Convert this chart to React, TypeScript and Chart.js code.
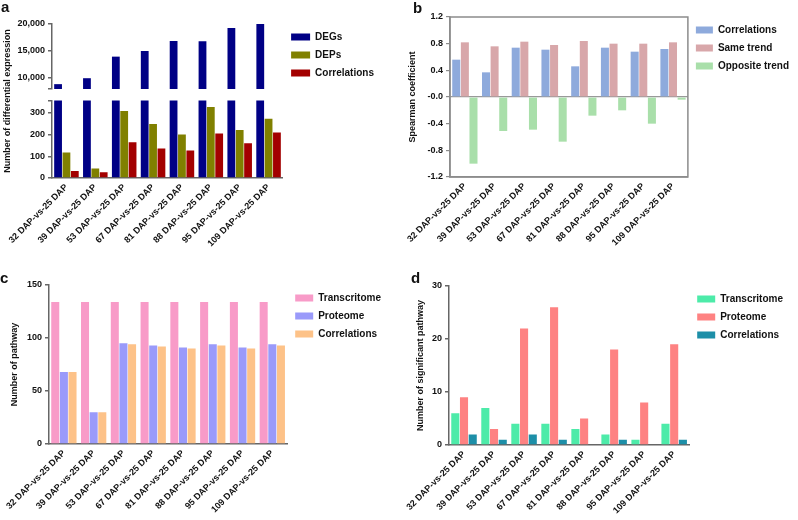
import React, { useEffect, useRef } from 'react';
import { Chart, registerables } from 'chart.js';

Chart.register(...registerables);

const FONT = "'Liberation Sans', Arial, Helvetica, sans-serif";
const TEXT = '#111111';

const categories = [
  '32 DAP-vs-25 DAP',
  '39 DAP-vs-25 DAP',
  '53 DAP-vs-25 DAP',
  '67 DAP-vs-25 DAP',
  '81 DAP-vs-25 DAP',
  '88 DAP-vs-25 DAP',
  '95 DAP-vs-25 DAP',
  '109 DAP-vs-25 DAP',
];

// Panel a (broken axis)
const aSeriesNames = ['DEGs', 'DEPs', 'Correlations'];
const degs = [8850, 9950, 13950, 15000, 16850, 16800, 19250, 20000];
const deps = [117, 44, 308, 249, 200, 327, 221, 273];
const corrA = [32, 27, 164, 136, 127, 205, 160, 209];
const aUpperRange = [7950, 20000];
const aUpperTicks = [7950, 10000, 15000, 20000];
const aUpperTickLabels = ['', '10,000', '15,000', '20,000'];
const aLowerRange = [0, 357];
const aLowerTicks = [0, 100, 200, 300, 357];
const aLowerTickLabels = ['0', '100', '200', '300', ''];

// Panel b
const bSeriesNames = ['Correlations', 'Same trend', 'Opposite trend'];
const corrB = [0.56, 0.37, 0.74, 0.71, 0.46, 0.74, 0.68, 0.72];
const sameTrend = [0.82, 0.76, 0.83, 0.78, 0.84, 0.8, 0.8, 0.82];
const oppositeTrend = [-1.0, -0.51, -0.49, -0.67, -0.28, -0.2, -0.4, -0.04];
const bRange = [-1.2, 1.2];
const bTicks = [-1.2, -0.8, -0.4, 0, 0.4, 0.8, 1.2];
const bTickLabels = ['-1.2', '-0.8', '-0.4', '-0.0', '0.4', '0.8', '1.2'];

// Panel c
const cSeriesNames = ['Transcritome', 'Proteome', 'Correlations'];
const transC = [134, 134, 134, 134, 134, 134, 134, 134];
const protC = [68, 30, 95, 93, 91, 94, 91, 94];
const corrC = [68, 30, 94, 92, 90, 93, 90, 93];
const cRange = [0, 150];
const cTicks = [0, 50, 100, 150];
const cTickLabels = ['0', '50', '100', '150'];

// Panel d
const dSeriesNames = ['Transcritome', 'Proteome', 'Correlations'];
const transD = [6, 7, 4, 4, 3, 2, 1, 4];
const protD = [9, 3, 22, 26, 5, 18, 8, 19];
const corrD = [2, 1, 2, 1, 0, 1, 0, 1];
const dRange = [0, 30];
const dTicks = [0, 10, 20, 30];
const dTickLabels = ['0', '10', '20', '30'];

const tickFont = { family: FONT, size: 9, weight: 'bold' as const };
const LEGEND_FONT_SIZE = 10;
const LEGEND_PAD = 8;
const Y_BOX = 150; // width reserved left of each plot (keeps the legend from being width-capped)

const bar = (label: string, data: number[], color: string) => ({
  label,
  data,
  backgroundColor: color,
  borderWidth: 0,
  clip: 0,
  categoryPercentage: 0.87,
  barPercentage: 0.93,
});

function yAxis(o: {
  range: number[];
  ticks: number[];
  labels: string[];
  title?: string;
  titleOffset?: number;
  color: string;
  grid?: any;
}) {
  return {
    type: 'linear',
    min: o.range[0],
    max: o.range[1],
    afterBuildTicks: (s: any) => {
      s.ticks = o.ticks.map((v) => ({ value: v }));
    },
    afterFit: (s: any) => {
      s.width = Y_BOX;
    },
    ticks: {
      font: tickFont,
      color: TEXT,
      padding: 3,
      autoSkip: false,
      callback: (_v: any, i: number) => o.labels[i],
    },
    grid: o.grid || {
      drawOnChartArea: false,
      drawTicks: true,
      tickLength: 4,
      color: o.color,
      lineWidth: 1.5,
    },
    border: { display: true, color: o.color, width: 1.5 },
    title: o.title
      ? {
          display: true,
          text: o.title,
          color: TEXT,
          font: { family: FONT, size: 9, weight: 'bold' },
          padding: { top: o.titleOffset || 0, bottom: 0 },
        }
      : { display: false },
  };
}

function xAxis(o: { height: number; color: string; display?: boolean }) {
  return {
    type: 'category',
    display: o.display !== false,
    offset: true,
    afterFit: (s: any) => {
      s.height = o.height;
    },
    ticks: {
      font: tickFont,
      color: TEXT,
      minRotation: 45,
      maxRotation: 45,
      padding: 4,
      autoSkip: false,
    },
    grid: { display: true, drawOnChartArea: false, drawTicks: false },
    border: { display: true, color: o.color, width: 1.5 },
  };
}

function legend(boxWidth: number, display = true) {
  return {
    display,
    position: 'right',
    align: 'start',
    labels: {
      boxWidth,
      boxHeight: 7,
      padding: LEGEND_PAD,
      color: TEXT,
      font: { family: FONT, size: LEGEND_FONT_SIZE, weight: 'bold' },
    },
  };
}

// Estimate of a vertical legend's width (corrected after layout, see ChartBox)
function legendWidth(names: string[], boxWidth: number) {
  const ctx = document.createElement('canvas').getContext('2d') as CanvasRenderingContext2D;
  ctx.font = `bold ${LEGEND_FONT_SIZE}px ${FONT}`;
  const maxText = Math.max(...names.map((n) => ctx.measureText(n).width));
  return LEGEND_PAD + boxWidth + LEGEND_FONT_SIZE / 2 + maxText + 10;
}

function barConfig(o: { datasets: any[]; x: any; y: any; legend: any; padding: any; plugins?: any[] }) {
  return {
    type: 'bar',
    data: { labels: categories, datasets: o.datasets },
    options: {
      responsive: false,
      maintainAspectRatio: false,
      animation: false,
      events: [],
      devicePixelRatio: 1,
      layout: { padding: o.padding },
      scales: { x: o.x, y: o.y },
      plugins: {
        legend: o.legend,
        tooltip: { enabled: false },
        title: { display: false },
      },
    },
    plugins: o.plugins || [],
  };
}

const framePlugin = {
  id: 'frameBox',
  afterDatasetsDraw(chart: any) {
    const { ctx, chartArea } = chart;
    ctx.save();
    ctx.strokeStyle = '#8c8c8c';
    ctx.lineWidth = 1.5;
    ctx.strokeRect(chartArea.left, chartArea.top, chartArea.right - chartArea.left, chartArea.bottom - chartArea.top);
    ctx.restore();
  },
};

type Box = { left: number; top: number; width: number; height: number; plotRight?: number };

function ChartBox({ box, make }: { box: Box; make: () => any }) {
  const ref = useRef<HTMLCanvasElement>(null);
  useEffect(() => {
    const chart = new Chart(ref.current as HTMLCanvasElement, make());
    if (box.plotRight !== undefined) {
      const target = box.plotRight - box.left;
      for (let k = 0; k < 4; k++) {
        const d = chart.chartArea.right - target;
        if (Math.abs(d) < 0.5) break;
        chart.resize(Math.round(chart.width - d), box.height);
      }
    }
    return () => chart.destroy();
  }, []);
  const w = Math.round(box.width);
  return (
    <canvas
      ref={ref}
      width={w}
      height={box.height}
      style={{ position: 'absolute', left: box.left, top: box.top, width: w, height: box.height }}
    />
  );
}

const AX = '#666666';
const aColors = ['#000085', '#808000', '#A30000'];
const bColors = ['#8EAADC', '#D8A7AA', '#A9DFAA'];
const cColors = ['#F89BC8', '#9A9AFA', '#FDC288'];
const dColors = ['#4DEBA9', '#FE8282', '#1D8FA8'];

const aDatasets = () => [
  bar(aSeriesNames[0], degs, aColors[0]),
  bar(aSeriesNames[1], deps, aColors[1]),
  bar(aSeriesNames[2], corrA, aColors[2]),
];

// panel geometry (page px): y-axis x, plot right, canvas left = axis - Y_BOX
const A_AXIS = 52, A_RIGHT = 283;
const B_AXIS = 450, B_RIGHT = 688, B_TITLE = 413;
const C_AXIS = 49, C_RIGHT = 287, C_TITLE = 15;
const D_AXIS = 449, D_RIGHT = 689, D_TITLE = 421;

const makeAUpper = () =>
  barConfig({
    datasets: aDatasets(),
    x: xAxis({ height: 0, color: AX, display: false }),
    y: yAxis({ range: aUpperRange, ticks: aUpperTicks, labels: aUpperTickLabels, color: AX }),
    legend: legend(19),
    padding: { left: 0, top: 24, right: 0, bottom: 20 },
  });

const makeALower = () =>
  barConfig({
    datasets: aDatasets(),
    x: xAxis({ height: 80, color: AX }),
    y: yAxis({ range: aLowerRange, ticks: aLowerTicks, labels: aLowerTickLabels, color: AX }),
    legend: legend(19, false),
    padding: { left: 0, top: 8, right: 0, bottom: 0 },
  });

const makeB = () =>
  barConfig({
    datasets: [
      bar(bSeriesNames[0], corrB, bColors[0]),
      bar(bSeriesNames[1], sameTrend, bColors[1]),
      bar(bSeriesNames[2], oppositeTrend, bColors[2]),
    ],
    x: xAxis({ height: 80, color: '#8c8c8c' }),
    y: yAxis({
      range: bRange,
      ticks: bTicks,
      labels: bTickLabels,
      color: '#8c8c8c',
      title: 'Spearman coefficient',
      titleOffset: B_TITLE - (B_AXIS - Y_BOX) - 5.4,
      grid: {
        drawOnChartArea: true,
        drawTicks: true,
        tickLength: 4,
        lineWidth: 1.2,
        color: (c: any) => (c.tick && Math.abs(c.tick.value) < 1e-9 ? '#999999' : 'rgba(0,0,0,0)'),
        tickColor: '#8c8c8c',
      },
    }),
    legend: legend(17),
    padding: { left: 0, top: 17, right: 0, bottom: 0 },
    plugins: [framePlugin],
  });

const makeC = () =>
  barConfig({
    datasets: [
      bar(cSeriesNames[0], transC, cColors[0]),
      bar(cSeriesNames[1], protC, cColors[1]),
      bar(cSeriesNames[2], corrC, cColors[2]),
    ],
    x: xAxis({ height: 76, color: AX }),
    y: yAxis({
      range: cRange,
      ticks: cTicks,
      labels: cTickLabels,
      color: AX,
      title: 'Number of pathway',
      titleOffset: C_TITLE - (C_AXIS - Y_BOX) - 5.4,
    }),
    legend: legend(18),
    padding: { left: 0, top: 10, right: 0, bottom: 0 },
  });

const makeD = () =>
  barConfig({
    datasets: [
      bar(dSeriesNames[0], transD, dColors[0]),
      bar(dSeriesNames[1], protD, dColors[1]),
      bar(dSeriesNames[2], corrD, dColors[2]),
    ],
    x: xAxis({ height: 75, color: AX }),
    y: yAxis({
      range: dRange,
      ticks: dTicks,
      labels: dTickLabels,
      color: AX,
      title: 'Number of significant pathway',
      titleOffset: D_TITLE - (D_AXIS - Y_BOX) - 5.4,
    }),
    legend: legend(18),
    padding: { left: 0, top: 10, right: 0, bottom: 0 },
  });

const letterStyle = (left: number, top: number): React.CSSProperties => ({
  position: 'absolute',
  left,
  top,
  fontSize: 15,
  fontWeight: 'bold',
  lineHeight: '15px',
  color: TEXT,
  fontFamily: FONT,
});

export default function App() {
  const aLeft = A_AXIS - Y_BOX;
  const bLeft = B_AXIS - Y_BOX;
  const cLeft = C_AXIS - Y_BOX;
  const dLeft = D_AXIS - Y_BOX;
  return (
    <div
      style={{
        position: 'absolute',
        left: 0,
        top: 0,
        width: 798,
        height: 520,
        overflow: 'hidden',
        background: '#ffffff',
        fontFamily: FONT,
      }}
    >
      <ChartBox box={{ left: aLeft, top: 92, width: A_RIGHT - aLeft, height: 166 }} make={makeALower} />
      <ChartBox
        box={{ left: aLeft, top: 0, width: A_RIGHT - aLeft + legendWidth(aSeriesNames, 19), height: 109, plotRight: A_RIGHT }}
        make={makeAUpper}
      />
      <ChartBox
        box={{ left: bLeft, top: 0, width: B_RIGHT - bLeft + legendWidth(bSeriesNames, 17), height: 257, plotRight: B_RIGHT }}
        make={makeB}
      />
      <ChartBox
        box={{ left: cLeft, top: 275, width: C_RIGHT - cLeft + legendWidth(cSeriesNames, 18), height: 245, plotRight: C_RIGHT }}
        make={makeC}
      />
      <ChartBox
        box={{ left: dLeft, top: 276, width: D_RIGHT - dLeft + legendWidth(dSeriesNames, 18), height: 244, plotRight: D_RIGHT }}
        make={makeD}
      />
      <div
        style={{
          position: 'absolute',
          left: 7,
          top: 101,
          transform: 'translate(-50%, -50%) rotate(-90deg)',
          fontSize: 9,
          fontWeight: 'bold',
          whiteSpace: 'nowrap',
          lineHeight: 1,
          color: TEXT,
          fontFamily: FONT,
        }}
      >
        Number of differential expression
      </div>
      <div style={letterStyle(1, -1)}>a</div>
      <div style={letterStyle(413, 0)}>b</div>
      <div style={letterStyle(0, 270)}>c</div>
      <div style={letterStyle(411, 270)}>d</div>
    </div>
  );
}
